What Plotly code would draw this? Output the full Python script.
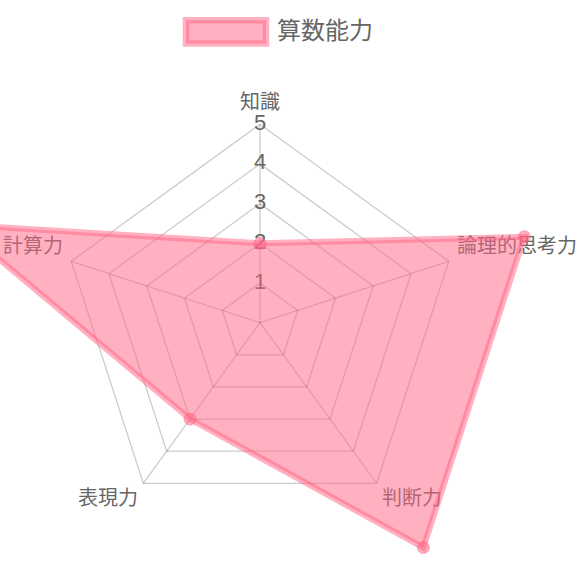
import numpy as np
import plotly.graph_objects as go

# ---- data ----
categories = ["知識", "論理的思考力", "判断力", "表現力", "計算力"]
values = [2, 7, 7, 3, 8]
series_name = "算数能力"
tick_values = [1, 2, 3, 4, 5]
tick_labels = ["1", "2", "3", "4", "5"]
scale_max = 5

# ---- geometry / style ----
W = H = 580
U = 39.7            # pixels per radial unit
CX, CY = 260, 322.7  # pixel position of the radar centre
TEXT = "#666666"
FONT = "Noto Sans CJK JP, Noto Sans, sans-serif"
GRID = "rgba(0,0,0,0.2)"
FILL = "rgba(255,99,132,0.5)"
BORDER = "rgba(255,99,132,0.5)"

n = len(categories)
angles = np.deg2rad(90 - 360.0 / n * np.arange(n))


def polar_xy(r):
    r = np.asarray(r, dtype=float)
    return r * np.cos(angles), r * np.sin(angles)


def closed(a):
    a = list(a)
    return a + [a[0]]


fig = go.Figure()

# grid polygons
for t in tick_values:
    gx, gy = polar_xy([t] * n)
    fig.add_trace(go.Scatter(x=closed(gx), y=closed(gy), mode="lines",
                             line=dict(color=GRID, width=1.3),
                             hoverinfo="skip", showlegend=False))

# angle lines (spokes)
vx, vy = polar_xy([scale_max] * n)
spx, spy = [], []
for i in range(n):
    spx += [0, vx[i], None]
    spy += [0, vy[i], None]
fig.add_trace(go.Scatter(x=spx, y=spy, mode="lines",
                         line=dict(color=GRID, width=1.3),
                         hoverinfo="skip", showlegend=False))

# radial tick labels
fig.add_trace(go.Scatter(x=[0] * len(tick_values), y=tick_values, mode="text",
                         text=tick_labels, textposition="middle center",
                         textfont=dict(size=22, color=TEXT,
                                       family="Liberation Sans, Arial, sans-serif"),
                         hoverinfo="skip", showlegend=False))

# point (category) labels: pixel offsets from the outer vertices
label_pos = ["top center", "middle right", "bottom right", "bottom left", "middle left"]
label_off_px = [(0, -10.4), (8.2, -13.4), (5.3, 7.2), (-5.3, 6.7), (-8.2, -12.9)]
lx = [vx[i] + label_off_px[i][0] / U for i in range(n)]
ly = [vy[i] - label_off_px[i][1] / U for i in range(n)]
fig.add_trace(go.Scatter(x=lx, y=ly, mode="text", text=categories,
                         textposition=label_pos,
                         textfont=dict(size=20, color=TEXT, family=FONT),
                         hoverinfo="skip", showlegend=False))

# dataset
dx, dy = polar_xy(values)
fig.add_trace(go.Scatter(x=closed(dx), y=closed(dy), mode="lines",
                         fill="toself", fillcolor=FILL,
                         line=dict(color=BORDER, width=6),
                         name=series_name, showlegend=False))
fig.add_trace(go.Scatter(x=dx, y=dy, mode="markers",
                         marker=dict(size=12, color=FILL,
                                     line=dict(color=BORDER, width=1)),
                         name=series_name, showlegend=False))

# legend (box + label)
fig.add_shape(type="rect", xref="paper", yref="paper",
              x0=186 / W, x1=266 / W, y0=1 - 43.6 / H, y1=1 - 20.3 / H,
              fillcolor=FILL, line=dict(color=BORDER, width=6.5))
fig.add_annotation(xref="paper", yref="paper", x=275 / W, y=1 - 28.5 / H,
                   xanchor="left", yanchor="middle", showarrow=False,
                   text=series_name, font=dict(size=24, color=TEXT, family=FONT))

fig.update_layout(
    width=W, height=H,
    margin=dict(l=0, r=0, t=0, b=0),
    paper_bgcolor="white", plot_bgcolor="white",
    xaxis=dict(visible=False, range=[-CX / U, (W - CX) / U], fixedrange=True),
    yaxis=dict(visible=False, range=[-(H - CY) / U, CY / U], fixedrange=True),
    hovermode=False,
)

fig.write_html("out.html",
               config={"displayModeBar": False, "staticPlot": True},
               post_script="document.body.style.margin='0';document.body.style.overflow='hidden';")
